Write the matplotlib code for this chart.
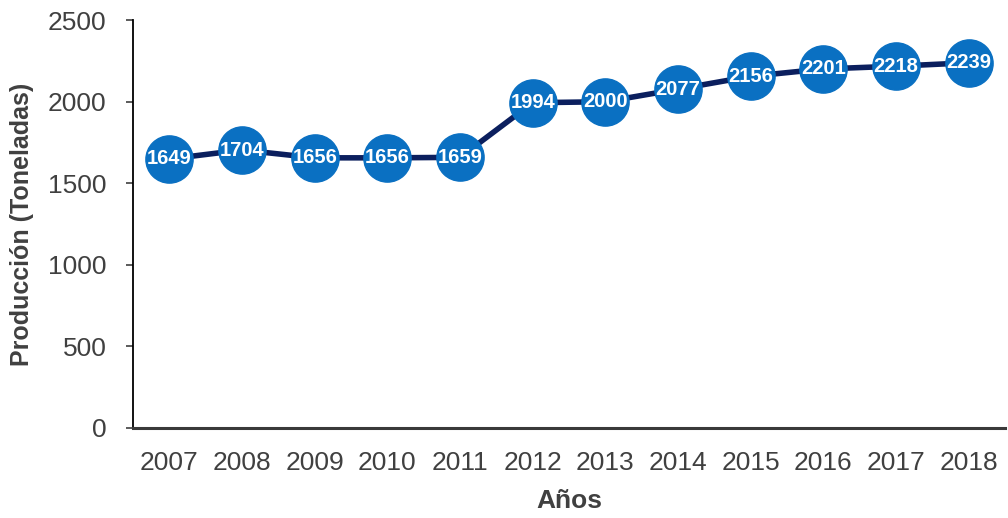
import numpy as np
import matplotlib
matplotlib.use('Agg')
import matplotlib.pyplot as plt

# Data
years = ['2007', '2008', '2009', '2010', '2011', '2012',
         '2013', '2014', '2015', '2016', '2017', '2018']
production = [1649, 1704, 1656, 1656, 1659, 1994,
              2000, 2077, 2156, 2201, 2218, 2239]
y_ticks = [0, 500, 1000, 1500, 2000, 2500]

plt.rcParams['font.family'] = ['Liberation Sans', 'DejaVu Sans']

fig = plt.figure(figsize=(10.08, 5.18), dpi=100, facecolor='white')
ax = fig.add_axes([0.132, 0.174, 0.865, 0.787])

x = np.arange(len(years))
ax.plot(x, production, color='#0b1f5e', linewidth=4, zorder=1,
        solid_capstyle='round')
ax.plot(x, production, linestyle='none', marker='o', markersize=34,
        markerfacecolor='#0a70c2', markeredgecolor='#0a70c2', zorder=2)

for xi, val in zip(x, production):
    ax.text(xi, val, str(val), ha='center', va='center', color='white',
            fontsize=14.5, fontweight='bold', zorder=3)

ax.set_xlim(-0.5, len(years) - 0.5)
ax.set_ylim(0, 2500)
ax.set_xticks(x)
ax.set_xticklabels(years)
ax.set_yticks(y_ticks)

ax.spines['top'].set_visible(False)
ax.spines['right'].set_visible(False)
ax.spines['left'].set_color('#000000')
ax.spines['left'].set_linewidth(1.3)
ax.spines['bottom'].set_color('#3a3a3a')
ax.spines['bottom'].set_linewidth(2.2)

ax.tick_params(axis='x', length=0, pad=17, labelsize=19, labelcolor='#404040')
ax.tick_params(axis='y', length=5, width=1.2, pad=14, labelsize=19,
               labelcolor='#404040', color='#404040')

ax.set_xlabel('Años', fontsize=19, fontweight='bold', color='#404040', labelpad=10)
ax.set_ylabel('Producción (Toneladas)', fontsize=18, fontweight='bold',
              color='#404040', labelpad=10)

fig.savefig('out.png', dpi=100, facecolor='white')
plt.close(fig)
